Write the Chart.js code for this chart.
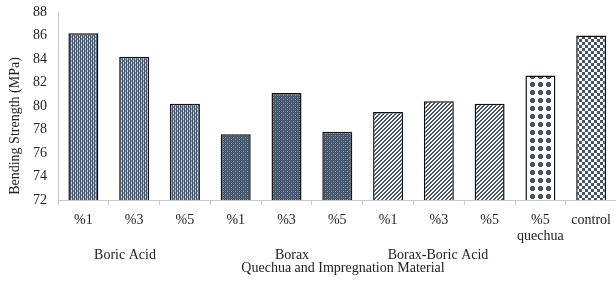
<!DOCTYPE html>
<html>
<head>
<meta charset="utf-8">
<script src="https://cdn.jsdelivr.net/npm/chart.js@4.4.0/dist/chart.umd.min.js"></script>
<style>
  html, body { margin: 0; padding: 0; background: #fff; overflow: hidden; width: 616px; height: 281px; }
  canvas { display: block; }
</style>
</head>
<body>
<canvas id="chart" width="619" height="281"></canvas>
<script>
// data
const categories = [['%1'], ['%3'], ['%5'], ['%1'], ['%3'], ['%5'], ['%1'], ['%3'], ['%5'], ['%5', 'quechua'], ['control']];
const strength = [86.2, 84.2, 80.2, 77.6, 81.1, 77.8, 79.5, 80.4, 80.2, 82.6, 86.0];
const groups = ['Boric Acid', 'Borax', 'Borax-Boric Acid'];
const yMin = 72, yMax = 88, yStep = 2;
const xTitle = 'Quechua and Impregnation Material';
const yTitle = 'Bending Strength (MPa)';

const NAVY = '#44546a';
const FONT = '"Liberation Serif", "Times New Roman", serif';
const TEXT = '#222';

// fill patterns, one per group
function makePattern(w, h, draw) {
    const c = document.createElement('canvas');
    c.width = w; c.height = h;
    const g = c.getContext('2d');
    draw(g);
    return g.createPattern(c, 'repeat');
}
const patVertical = makePattern(4, 4, g => {
    g.fillStyle = '#7f8ba1'; g.fillRect(0, 0, 4, 4);
    g.fillStyle = NAVY;
    g.fillRect(0, 0, 1, 4);
    g.fillRect(2, 0, 1, 4);
    g.fillStyle = '#cdd4df';
    g.fillRect(1, 0, 1, 2);
    g.fillRect(3, 2, 1, 2);
});
const patDots = makePattern(4, 4, g => {
    g.fillStyle = NAVY; g.fillRect(0, 0, 4, 4);
    g.fillStyle = '#8b97ab';
    g.fillRect(1, 1, 1, 1);
    g.fillRect(3, 3, 1, 1);
    g.fillStyle = '#6b7a92';
    g.fillRect(3, 1, 1, 1);
    g.fillRect(1, 3, 1, 1);
});
const patDiag = makePattern(4, 4, g => {
    g.fillStyle = '#fff'; g.fillRect(0, 0, 4, 4);
    g.fillStyle = NAVY;
    for (let x = 0; x < 4; x++) for (let y = 0; y < 4; y++) {
        if ((x + y) % 4 < 2) g.fillRect(x, y, 1, 1);
    }
});
const patPlus = makePattern(8, 8, g => {
    g.fillStyle = '#fff'; g.fillRect(0, 0, 8, 8);
    g.fillStyle = NAVY;
    g.fillRect(2, 3, 5, 3);
    g.fillRect(3, 2, 3, 5);
});
const patChecker = makePattern(6, 6, g => {
    g.fillStyle = '#fff'; g.fillRect(0, 0, 6, 6);
    g.fillStyle = NAVY;
    g.fillRect(0, 0, 3, 3);
    g.fillRect(3, 3, 3, 3);
});
const fills = [patVertical, patVertical, patVertical, patDots, patDots, patDots,
               patDiag, patDiag, patDiag, patPlus, patChecker];

// texts under the axis
const bottomText = {
    id: 'bottomText',
    afterDraw(chart) {
        const ctx = chart.ctx;
        ctx.save();
        ctx.font = '14px ' + FONT;
        ctx.fillStyle = TEXT;
        ctx.textAlign = 'center';
        ctx.textBaseline = 'middle';
        const gx = [125, 292, 438];
        groups.forEach((t, i) => ctx.fillText(t, gx[i], 255));
        ctx.fillText(xTitle, 343, 268);
        ctx.translate(15, 126);
        ctx.rotate(-Math.PI / 2);
        ctx.fillText(yTitle, 0, 0);
        ctx.restore();
    }
};

new Chart(document.getElementById('chart'), {
    type: 'bar',
    data: {
        labels: categories,
        datasets: [{
            data: strength,
            backgroundColor: fills,
            borderColor: '#111',
            borderWidth: 1.5,
            barPercentage: 0.59,
            categoryPercentage: 1
        }]
    },
    options: {
        responsive: false,
        animation: false,
        devicePixelRatio: 1,
        layout: { padding: { top: 12, right: 0, bottom: 0, left: 0 } },
        plugins: { legend: { display: false }, tooltip: { enabled: false } },
        scales: {
            x: {
                offset: true,
                grid: { display: true, drawOnChartArea: false, drawTicks: true, tickLength: 5, color: '#c8c8c8' },
                border: { color: '#c8c8c8' },
                ticks: { color: TEXT, padding: 8, maxRotation: 0, autoSkip: false, font: { family: FONT, size: 14, lineHeight: 1.1 } },
                afterFit(s) { s.height = 81; }
            },
            y: {
                min: yMin,
                max: yMax,
                ticks: { stepSize: yStep, color: TEXT, padding: 0, font: { family: FONT, size: 14 } },
                // invisible tick marks just push the labels off the axis
                grid: { display: true, drawOnChartArea: false, drawTicks: true, tickLength: 11, color: 'rgba(0,0,0,0)' },
                border: { color: '#c8c8c8' },
                afterFit(s) { s.width = 58; }
            }
        }
    },
    plugins: [bottomText]
});
</script>
</body>
</html>
